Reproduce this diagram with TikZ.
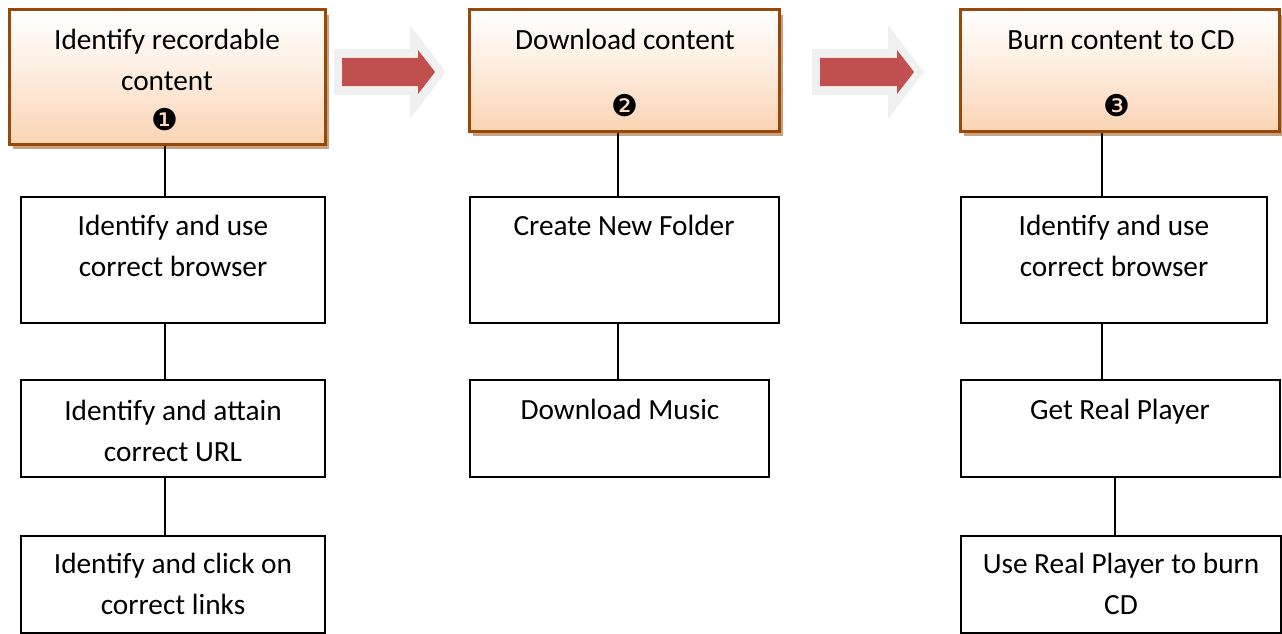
\documentclass[tikz,border=0pt]{standalone}
\usepackage{fontspec}
\setmainfont{Carlito}
\newfontfamily\dejavu{DejaVu Sans}
\usetikzlibrary{shadows}
\definecolor{hdrborder}{HTML}{984807}
\definecolor{hdrbot}{HTML}{FBD4B4}
\definecolor{hdrshadow}{HTML}{C9A283}
\definecolor{arrred}{HTML}{C0504D}
\definecolor{arrglow}{HTML}{F0F0F0}
\tikzset{
  hdrbox/.style={rectangle, draw=hdrborder, line width=3pt, top color=white, bottom color=hdrbot,
     middle color=hdrbot!45, inner sep=0pt,
     drop shadow={shadow xshift=4pt, shadow yshift=-5pt, fill=hdrshadow, opacity=1}},
  stepbox/.style={rectangle, draw=black, line width=2.6pt, fill=white, inner sep=0pt},
  conn/.style={draw=black, line width=1.8pt},
  txt/.style={inner sep=0pt, anchor=base, align=center, font=\fontsize{29.3}{41}\selectfont},
  num/.style={inner sep=0pt, anchor=center, font=\dejavu\fontsize{30}{30}\selectfont}
}
\begin{document}
\begin{tikzpicture}[x=1pt,y=-1pt]
\useasboundingbox (0,0) rectangle (1282,634);
% block arrows
\fill[arrglow] (334,49) -- (410,49) -- (410,25) -- (446,72) -- (410,119) -- (410,95) -- (334,95) -- cycle;
\fill[arrred] (342,58) -- (418,58) -- (418,50) -- (435,72) -- (418,94) -- (418,86) -- (342,86) -- cycle;
\fill[arrglow] (812,49) -- (888,49) -- (888,25) -- (924,72) -- (888,119) -- (888,95) -- (812,95) -- cycle;
\fill[arrred] (820,58) -- (897,58) -- (897,50) -- (914,72) -- (897,94) -- (897,86) -- (820,86) -- cycle;
% header boxes
\node[hdrbox, minimum width=316pt, minimum height=134pt] (h1) at (167,77) {};
\node[hdrbox, minimum width=310pt, minimum height=121pt] (h2) at (624,70.5) {};
\node[hdrbox, minimum width=319pt, minimum height=121pt] (h3) at (1119.5,70.5) {};
\node[txt] (h1t) at (167,90) {Identify recordable\\content};
\node[txt] (h2t) at (625,49) {Download content};
\node[txt] (h3t) at (1121,49) {Burn content to CD};
\node[num] (n1) at (165,120) {❶};
\node[num] (n2) at (625,106) {❷};
\node[num] (n3) at (1117,106) {❸};
% step boxes
\node[stepbox, minimum width=304pt, minimum height=126pt] (a1) at (173,260) {};
\node[stepbox, minimum width=304pt, minimum height=97pt] (b1) at (173,428.5) {};
\node[stepbox, minimum width=304pt, minimum height=97pt] (c1) at (173,584.5) {};
\node[stepbox, minimum width=309pt, minimum height=126pt] (a2) at (624.5,260) {};
\node[stepbox, minimum width=299pt, minimum height=97pt] (b2) at (619.5,428.5) {};
\node[stepbox, minimum width=306pt, minimum height=126pt] (a3) at (1114,260) {};
\node[stepbox, minimum width=319pt, minimum height=97pt] (b3) at (1120.5,428.5) {};
\node[stepbox, minimum width=320pt, minimum height=97pt] (c3) at (1121,584.5) {};
\node[txt] (a1t) at (173,276) {Identify and use\\correct browser};
\node[txt] (b1t) at (173,461) {Identify and attain\\correct URL};
\node[txt] (c1t) at (173,614) {Identify and click on\\correct links};
\node[txt] (a2t) at (624,235) {Create New Folder};
\node[txt] (b2t) at (620,419) {Download Music};
\node[txt] (a3t) at (1114,276) {Identify and use\\correct browser};
\node[txt] (b3t) at (1120,419) {Get Real Player};
\node[txt] (c3t) at (1121,614) {Use Real Player to burn\\CD};
% connector columns
\coordinate (k1) at (165,0);
\coordinate (k2) at (618,0);
\coordinate (k3) at (1102,0);
\coordinate (k4) at (1115,0);
\draw[conn] (h1.south -| k1) -- (a1.north -| k1);
\draw[conn] (a1.south -| k1) -- (b1.north -| k1);
\draw[conn] (b1.south -| k1) -- (c1.north -| k1);
\draw[conn] (h2.south -| k2) -- (a2.north -| k2);
\draw[conn] (a2.south -| k2) -- (b2.north -| k2);
\draw[conn] (h3.south -| k3) -- (a3.north -| k3);
\draw[conn] (a3.south -| k3) -- (b3.north -| k3);
\draw[conn] (b3.south -| k4) -- (c3.north -| k4);
\end{tikzpicture}
\end{document}
